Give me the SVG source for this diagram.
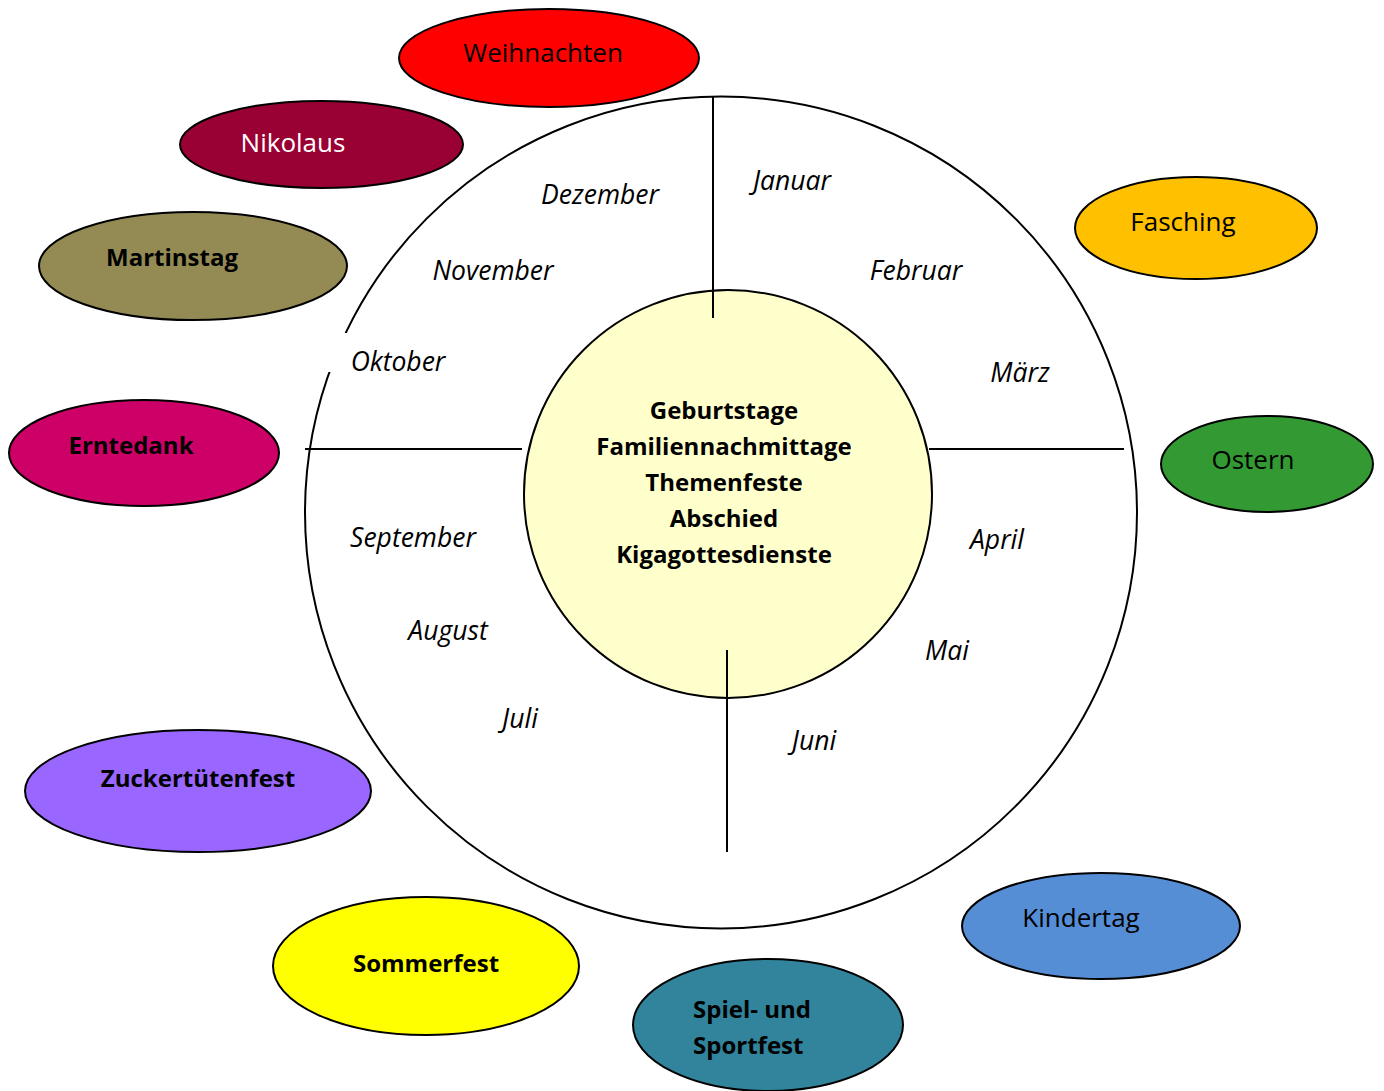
<svg xmlns="http://www.w3.org/2000/svg" width="1384" height="1091" viewBox="0 0 1384 1091">
<style>
.e{stroke:#000;stroke-width:2}
.t{font-family:"Open Sans","Noto Sans",sans-serif;font-size:26px;fill:#000;text-anchor:middle}
.b{font-size:24px;font-weight:bold}
.m{font-family:"Open Sans","Noto Sans",sans-serif;font-size:26.5px;font-style:italic;fill:#000;text-anchor:middle}
.l{stroke:#000;stroke-width:2;fill:none}
</style>
<rect width="1384" height="1091" fill="#fff"/>
<g id="ring">
<circle cx="721" cy="512.5" r="416" fill="#fff" stroke="#000" stroke-width="2"/>
<rect x="322" y="333" width="135" height="39" fill="#fff"/>
</g>
<g id="center">
<circle cx="728" cy="494" r="204" fill="#FFFFCC" stroke="#000" stroke-width="2"/>
<text class="t b" x="724" y="419">Geburtstage</text>
<text class="t b" x="724" y="455">Familiennachmittage</text>
<text class="t b" x="724" y="491">Themenfeste</text>
<text class="t b" x="724" y="527">Abschied</text>
<text class="t b" x="724" y="563">Kigagottesdienste</text>
</g>
<g id="connectors">
<line class="l" x1="713" y1="97" x2="713" y2="318"/>
<line class="l" x1="305" y1="449" x2="522" y2="449"/>
<line class="l" x1="929" y1="449" x2="1124" y2="449"/>
<line class="l" x1="727" y1="650" x2="727" y2="852"/>
</g>
<g id="months">
<text class="m" x="600" y="204">Dezember</text>
<text class="m" x="792" y="190">Januar</text>
<text class="m" x="493" y="280">November</text>
<text class="m" x="916" y="280">Februar</text>
<text class="m" x="398" y="371">Oktober</text>
<text class="m" x="1020" y="382">März</text>
<text class="m" x="413" y="547">September</text>
<text class="m" x="997" y="549">April</text>
<text class="m" x="448" y="640">August</text>
<text class="m" x="947" y="660">Mai</text>
<text class="m" x="520" y="728">Juli</text>
<text class="m" x="814" y="750">Juni</text>
</g>
<g id="weihnachten"><ellipse class="e" cx="549" cy="58" rx="150" ry="49" fill="#FF0000"/><text class="t" x="543" y="62">Weihnachten</text></g>
<g id="nikolaus"><ellipse class="e" cx="321.5" cy="144.5" rx="141.5" ry="43.5" fill="#990033"/><text class="t" x="293" y="152" style="fill:#fff">Nikolaus</text></g>
<g id="martinstag"><ellipse class="e" cx="193" cy="266" rx="154" ry="54" fill="#948A54"/><text class="t b" x="172" y="266">Martinstag</text></g>
<g id="erntedank"><ellipse class="e" cx="144" cy="453" rx="135" ry="53" fill="#CC0066"/><text class="t b" x="131" y="454">Erntedank</text></g>
<g id="zuckertuetenfest"><ellipse class="e" cx="198" cy="791" rx="173" ry="61" fill="#9966FF"/><text class="t b" x="198" y="787">Zuckertütenfest</text></g>
<g id="sommerfest"><ellipse class="e" cx="426" cy="966" rx="153" ry="69" fill="#FFFF00"/><text class="t b" x="426" y="972">Sommerfest</text></g>
<g id="sportfest"><ellipse class="e" cx="768" cy="1025" rx="135" ry="66" fill="#31849B"/><text class="t b" x="693" y="1018" style="text-anchor:start">Spiel- und</text><text class="t b" x="693" y="1054" style="text-anchor:start">Sportfest</text></g>
<g id="kindertag"><ellipse class="e" cx="1101" cy="926" rx="139" ry="53" fill="#558ED5"/><text class="t" x="1081" y="927">Kindertag</text></g>
<g id="ostern"><ellipse class="e" cx="1267" cy="464" rx="106" ry="48" fill="#339933"/><text class="t" x="1253" y="469">Ostern</text></g>
<g id="fasching"><ellipse class="e" cx="1196" cy="228" rx="121" ry="51" fill="#FFC000"/><text class="t" x="1183" y="231">Fasching</text></g>
</svg>
